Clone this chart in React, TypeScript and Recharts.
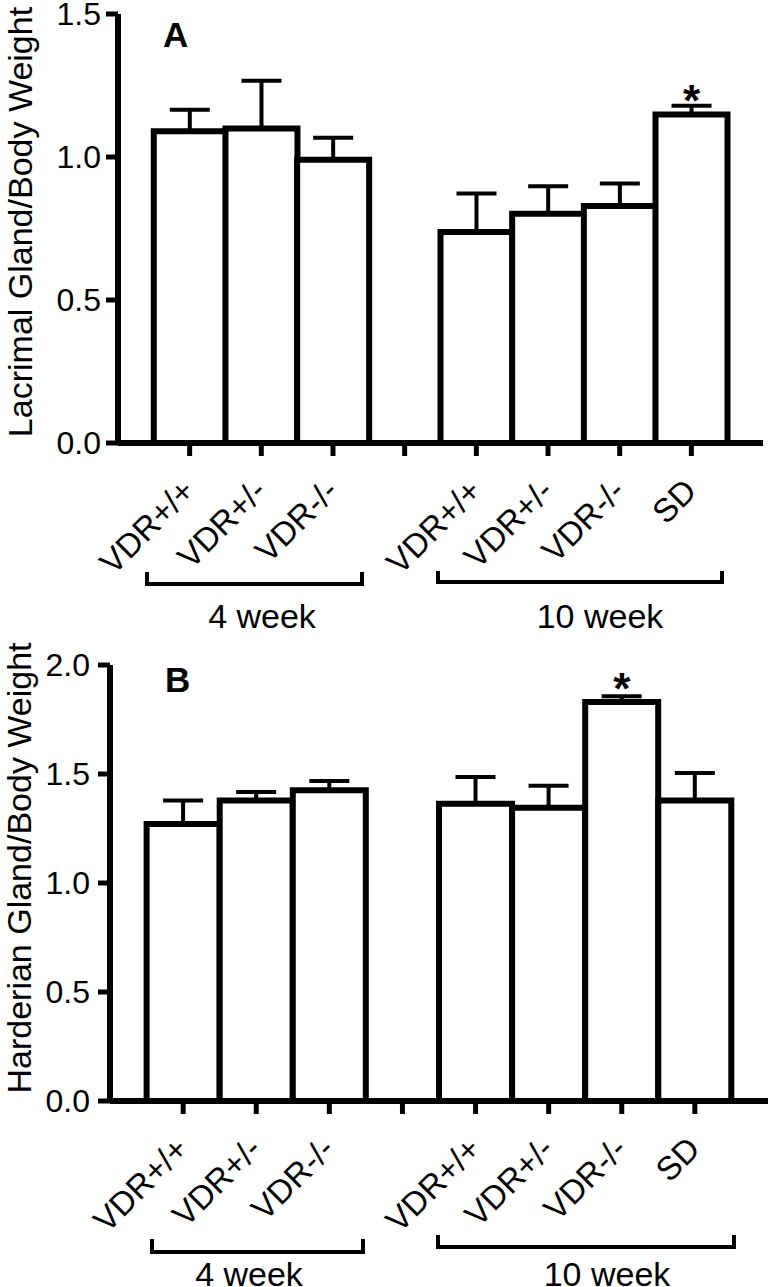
import React from "react";
import { BarChart, Bar, XAxis, YAxis, ErrorBar, LabelList } from "recharts";

// slot 4 is the empty gap between the 4 week and 10 week groups
const groupLabels = ["VDR+/+", "VDR+/-", "VDR-/-", "", "VDR+/+", "VDR+/-", "VDR-/-", "SD"];

const lacrimalMeans = [1.09, 1.1, 0.99, null, 0.738, 0.802, 0.829, 1.149];
const lacrimalSem = [0.075, 0.167, 0.077, null, 0.134, 0.096, 0.078, 0.03];
const lacrimalSig = ["", "", "", "", "", "", "", "*"];
const lacrimalTicks = [0, 0.5, 1, 1.5];

const harderianMeans = [1.271, 1.379, 1.425, null, 1.363, 1.345, 1.83, 1.379];
const harderianSem = [0.108, 0.038, 0.043, null, 0.123, 0.101, 0.027, 0.126];
const harderianSig = ["", "", "", "", "", "", "*", ""];
const harderianTicks = [0, 0.5, 1, 1.5, 2];

const FONT = "Arial, 'Liberation Sans', Helvetica, sans-serif";

const buildRows = (means: (number | null)[], sem: (number | null)[], sig: string[]) =>
  groupLabels.map((label, i) => ({
    slot: `g${i}`,
    label,
    value: means[i],
    err: sem[i] == null ? null : [0, sem[i]],
    sig: sig[i],
  }));

const lacrimalRows = buildRows(lacrimalMeans, lacrimalSem, lacrimalSig);
const harderianRows = buildRows(harderianMeans, harderianSem, harderianSig);

const CategoryTick = (props: any) => {
  const { x, y, payload, index } = props;
  const label = groupLabels[payload?.index ?? index] ?? "";
  const ax = x + 7;
  const ay = y + 36;
  return (
    <text
      x={ax}
      y={ay}
      transform={`rotate(-45, ${ax}, ${ay})`}
      textAnchor="end"
      fontSize={33}
      fontFamily={FONT}
      fill="#000"
    >
      {label}
    </text>
  );
};

const StarLabel = (props: any) => {
  const { x, y, width, value } = props;
  if (!value) return null;
  return (
    <text
      x={x + width / 2}
      y={y + 2}
      textAnchor="middle"
      fontSize={44}
      fontWeight="bold"
      fontFamily={FONT}
      fill="#000"
    >
      {value}
    </text>
  );
};

interface PanelProps {
  rows: any[];
  ticks: number[];
  top: number;
  height: number;
  marginTop: number;
  marginRight: number;
  axisWidth: number;
  xAxisHeight: number;
  pad: number;
  tickMargin: number;
}

const Panel: React.FunctionComponent<PanelProps> = (p) => (
  <div style={{ position: "absolute", left: 0, top: p.top }}>
    <BarChart
      width={772}
      height={p.height}
      data={p.rows}
      margin={{ top: p.marginTop, right: p.marginRight, left: 0, bottom: 0 }}
      barCategoryGap={0}
      barGap={0}
    >
      <XAxis
        dataKey="slot"
        height={p.xAxisHeight}
        padding={{ left: p.pad, right: p.pad }}
        axisLine={{ stroke: "#000", strokeWidth: 6 }}
        tickLine={{ stroke: "#000", strokeWidth: 5 }}
        tickSize={13}
        tickMargin={1}
        interval={0}
        tick={<CategoryTick />}
      />
      <YAxis
        width={p.axisWidth}
        domain={[p.ticks[0], p.ticks[p.ticks.length - 1]]}
        ticks={p.ticks}
        interval={0}
        tickFormatter={(v: number) => v.toFixed(1)}
        axisLine={{ stroke: "#000", strokeWidth: 6 }}
        tickLine={{ stroke: "#000", strokeWidth: 5 }}
        tickSize={12}
        tickMargin={p.tickMargin}
        tick={{ fontSize: 32, fill: "#000", fontFamily: FONT }}
      />
      <Bar dataKey="value" fill="#fff" stroke="#000" strokeWidth={6} isAnimationActive={false}>
        <ErrorBar dataKey="err" direction="y" width={20} stroke="#000" strokeWidth={4} />
        <LabelList dataKey="sig" content={<StarLabel />} />
      </Bar>
    </BarChart>
  </div>
);

const App: React.FunctionComponent = () => {
  const textStyle = { fontFamily: FONT, fill: "#000" } as const;
  return (
    <div style={{ position: "absolute", left: 0, top: 0, width: 772, height: 1287, background: "#fff" }}>
      <Panel
        rows={lacrimalRows}
        ticks={lacrimalTicks}
        top={0}
        height={640}
        marginTop={14}
        marginRight={9}
        axisWidth={118}
        xAxisHeight={197}
        pad={35.8}
        tickMargin={5}
      />
      <Panel
        rows={harderianRows}
        ticks={harderianTicks}
        top={640}
        height={647}
        marginTop={25}
        marginRight={4}
        axisWidth={110}
        xAxisHeight={186}
        pad={36.6}
        tickMargin={8}
      />
      <svg
        width={772}
        height={1287}
        style={{ position: "absolute", left: 0, top: 0, pointerEvents: "none" }}
      >
        <text x={163} y={47} fontSize={35} fontWeight="bold" {...textStyle}>A</text>
        <text x={165} y={692} fontSize={35} fontWeight="bold" {...textStyle}>B</text>

        <text x={32} y={222} fontSize={34} textAnchor="middle" transform="rotate(-90, 32, 222)" {...textStyle}>
          Lacrimal Gland/Body Weight
        </text>
        <text x={31} y={868} fontSize={34} textAnchor="middle" transform="rotate(-90, 31, 868)" {...textStyle}>
          Harderian Gland/Body Weight
        </text>

        <g stroke="#000" strokeWidth={4} fill="none">
          <polyline points="147,572 147,584 362,584 362,572" />
          <polyline points="438,571 438,582 722,582 722,571" />
          <polyline points="152,1239 152,1252 363,1252 363,1239" />
          <polyline points="438,1235 438,1247 734,1247 734,1235" />
        </g>

        <text x={262} y={628} fontSize={34} textAnchor="middle" {...textStyle}>4 week</text>
        <text x={600} y={628} fontSize={34} textAnchor="middle" {...textStyle}>10 week</text>
        <text x={249} y={1286} fontSize={34} textAnchor="middle" {...textStyle}>4 week</text>
        <text x={607} y={1286} fontSize={34} textAnchor="middle" {...textStyle}>10 week</text>
      </svg>
    </div>
  );
};

export default App;
